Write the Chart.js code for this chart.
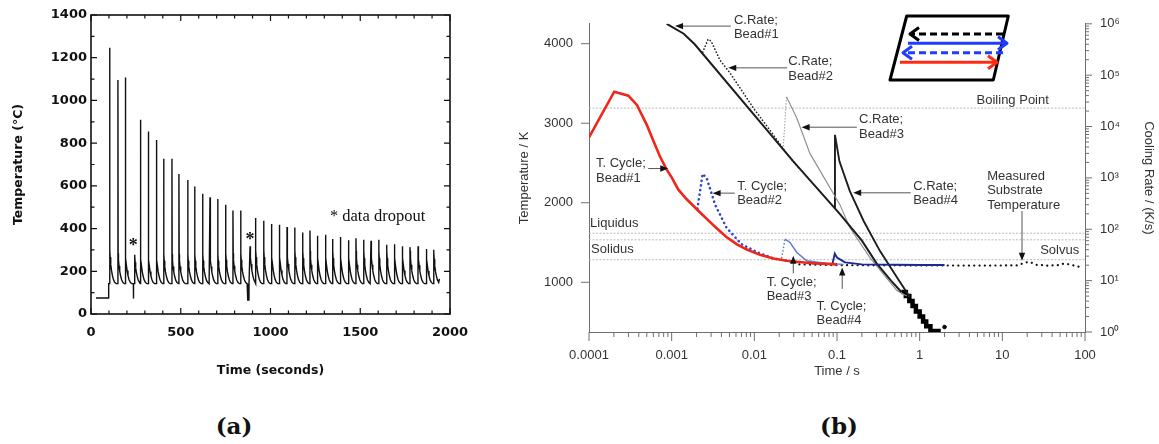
<!DOCTYPE html>
<html>
<head>
<meta charset="utf-8">
<script src="https://cdn.jsdelivr.net/npm/chart.js@4.4.1/dist/chart.umd.min.js"></script>
<style>
  body { margin: 0; width: 1159px; height: 444px; background: #fff; position: relative; overflow: hidden; }
  .panel { position: absolute; top: 0; }
  .tag { position: absolute; top: 414px; transform: translateX(-50%); font: bold 23px 'DejaVu Serif', serif; color: #111; line-height: 1; }
</style>
</head>
<body>
<canvas id="chartA" class="panel" style="left:0" width="480" height="395"></canvas>
<canvas id="chartB" class="panel" style="left:480px" width="679" height="395"></canvas>
<div class="tag" style="left:234px">(a)</div>
<div class="tag" style="left:839px">(b)</div>
<script>
// ---------- (a) temperature history ----------
const preTimes = [28, 98, 98.5];
const preTemps = [75, 75, 142];
const baseTemp = 142;
const cycleTimes = [104, 150, 191, 243, 275, 319, 364, 405, 451, 490, 539, 578, 622, 663, 706, 750, 791, 834, 886, 917,
  962, 1005, 1049, 1092, 1135, 1179, 1220, 1261, 1306, 1346, 1389, 1434, 1476, 1519, 1560, 1603, 1647, 1690, 1734, 1777,
  1822, 1868, 1909];
const peakTemps = [1247, 1096, 1107, 278, 909, 854, 815, 727, 727, 655, 628, 597, 563, 547, 538, 511, 485, 485, 317, 449,
  437, 421, 418, 407, 405, 382, 391, 366, 371, 351, 360, 345, 355, 348, 343, 348, 324, 327, 317, 313,
  317, 304, 301];
const kneeTemps = [300, 285, 295, 270, 290, 285, 285, 280, 280, 280, 280, 280, 280, 280, 280, 285, 285, 285, 300, 300,
  300, 300, 300, 300, 300, 295, 295, 295, 295, 295, 295, 295, 295, 295, 295, 295, 295, 295, 295, 295,
  290, 290, 288];
// decay after each spike: seconds after peak, share of (knee - base) left
const decayOffsets = [1.2, 3, 6, 10, 15, 21, 28, 36];
const decayShares = [1, 0.78, 0.58, 0.4, 0.25, 0.12, 0.04, 0];
// data dropouts (cycle index they precede, start, end, low value)
const dropoutCycle = [3, 18];
const dropoutStart = [236, 873];
const dropoutEnd = [237, 880];
const dropoutTemps = [72, 65];
const endTime = 1941, endTemp = 165;
const xTicksA = [0, 500, 1000, 1500, 2000];
const yTicksA = [0, 200, 400, 600, 800, 1000, 1200, 1400];

// ---------- (b) thermal cycles and cooling rates ----------
const redTimes = [1e-4, 2.02e-4, 2.99e-4, 3.8e-4, 5e-4, 6e-4, 7.2e-4, 8.7e-4, 1.0e-3, 1.2e-3, 1.5e-3, 2.1e-3, 2.9e-3, 3.5e-3,
  4.6e-3, 6.1e-3, 8e-3, 1.17e-2, 1.7e-2, 2.45e-2, 5e-2, 0.1];
const redTemps = [2821, 3396, 3346, 3230, 2980, 2780, 2584, 2417, 2320, 2167, 2050, 1900, 1760, 1680,
  1570, 1480, 1415, 1345, 1300, 1271, 1240, 1225];
const bead2Times = [2.05e-3, 2.37e-3, 2.65e-3, 3.34e-3, 4.6e-3, 7.0e-3, 1.1e-2, 1.7e-2, 3.0e-2];
const bead2Temps = [1925, 2363, 2313, 1980, 1687, 1479, 1375, 1300, 1255];
const bead3Times = [2.14e-2, 2.35e-2, 2.7e-2, 3.27e-2, 4.3e-2, 7.5e-2, 0.12];
const bead3Temps = [1300, 1542, 1500, 1375, 1271, 1237, 1225];
const bead4Times = [0.05, 0.088, 0.094, 0.1, 0.125, 0.2, 0.5, 1.0, 2.0];
const bead4Temps = [1240, 1232, 1362, 1312, 1250, 1225, 1220, 1218, 1217];
const substrateTimes = [0.035, 0.1, 1, 5, 15, 18, 21, 26, 35, 48, 55, 65, 80, 95];
const substrateTemps = [1225, 1215, 1212, 1210, 1212, 1240, 1259, 1220, 1210, 1215, 1234, 1225, 1200, 1190];

const rate1Times = [8.7e-4, 1.4e-3, 1.9e-3, 2.96e-2, 0.108, 0.2, 0.3, 0.45, 0.6];
const rate1Values = [1.0e6, 6.4e5, 4.0e5, 2100, 200, 60, 22, 10, 6];
const rate2Times = [2.37e-3, 2.76e-3, 3.0e-3, 3.85e-3, 5.1e-3, 9.8e-3, 1.7e-2, 2.45e-2, 3.6e-2];
const rate2Values = [2.8e5, 5.0e5, 4.6e5, 1.95e5, 1.09e5, 2.26e4, 6.9e3, 3.0e3, 1450];
const rate3Times = [2.23e-2, 2.45e-2, 3.27e-2, 4.7e-2, 7.0e-2, 0.108, 0.143, 0.25, 0.53, 0.7];
const rate3Values = [3600, 3.8e4, 1.45e4, 3000, 1000, 305, 108, 28, 6.4, 5];
const rate4Times = [0.094, 0.0945, 0.107, 0.143, 0.21, 0.33, 0.53, 0.76];
const rate4Values = [260, 6900, 2100, 552, 145, 38, 11.6, 4.8];
const tailTimes = [0.6, 0.68, 0.75, 0.82, 0.9, 1.0, 1.1, 1.2, 1.35, 1.8];
const tailValues = [6, 5, 4, 3.2, 2.5, 2, 1.6, 1.3, 1.05, 1.05];
const lastDotTime = [2.0], lastDotValue = [1.25];

const refNames = ['Boiling Point', 'Liquidus', 'Solidus', 'Solvus'];
const refTemps = [3190, 1617, 1534, 1284];

const xTicksB = [1e-4, 1e-3, 0.01, 0.1, 1, 10, 100];
const xLabelsB = ['0.0001', '0.001', '0.01', '0.1', '1', '10', '100'];
const yTicksB = [1000, 2000, 3000, 4000];
const rateTicks = [1, 10, 100, 1e3, 1e4, 1e5, 1e6];
const rateLabels = ['10\u2070', '10\u00b9', '10\u00b2', '10\u00b3', '10\u2074', '10\u2075', '10\u2076'];

// build the (a) trace
const seriesA = preTimes.map((t, i) => ({x: t, y: preTemps[i]}));
cycleTimes.forEach((tp, i) => {
  const d = dropoutCycle.indexOf(i);
  if (d >= 0) {
    seriesA.push({x: dropoutStart[d], y: baseTemp}, {x: dropoutStart[d] + 0.3, y: dropoutTemps[d]},
      {x: dropoutEnd[d], y: dropoutTemps[d]}, {x: dropoutEnd[d] + 0.3, y: baseTemp});
  }
  seriesA.push({x: tp - 0.4, y: baseTemp}, {x: tp, y: peakTemps[i]});
  const next = i + 1 < cycleTimes.length ? cycleTimes[i + 1] : endTime;
  decayOffsets.forEach((o, k) => {
    if (tp + o < next - 1) seriesA.push({x: tp + o, y: baseTemp + decayShares[k] * (kneeTemps[i] - baseTemp)});
  });
});
seriesA.push({x: endTime, y: endTemp});

const zip = (xs, ys) => xs.map((v, i) => ({x: v, y: ys[i]}));

const boldA = {family: 'DejaVu Sans', weight: 'bold', size: 13};

const frameA = {
  id: 'frameA',
  afterDraw(chart) {
    const {ctx, chartArea: a, scales: {x, y}} = chart;
    ctx.save();
    ctx.strokeStyle = '#111';
    ctx.lineWidth = 1.6;
    ctx.strokeRect(a.left, a.top, a.right - a.left, a.bottom - a.top);
    ctx.lineWidth = 1.2;
    ctx.beginPath();
    for (let v = 0; v <= 2000; v += 100) {
      const p = x.getPixelForValue(v), len = xTicksA.includes(v) ? 6 : 3.5;
      ctx.moveTo(p, a.bottom); ctx.lineTo(p, a.bottom - len);
      ctx.moveTo(p, a.top); ctx.lineTo(p, a.top + len);
    }
    for (let v = 0; v <= 1400; v += 100) {
      const p = y.getPixelForValue(v), len = yTicksA.includes(v) ? 6 : 3.5;
      ctx.moveTo(a.left, p); ctx.lineTo(a.left + len, p);
      ctx.moveTo(a.right, p); ctx.lineTo(a.right - len, p);
    }
    ctx.stroke();
    ctx.fillStyle = '#111';
    ctx.textBaseline = 'middle';
    ctx.font = '16.5px "Liberation Serif", serif';
    ctx.fillText('* data dropout', x.getPixelForValue(1331), y.getPixelForValue(455));
    ctx.font = 'bold 18px "Liberation Serif", serif';
    ctx.textAlign = 'center';
    ctx.textBaseline = 'alphabetic';
    [[236, 331], [886, 359]].forEach(([t, v]) => {
      ctx.fillText('*', x.getPixelForValue(t), y.getPixelForValue(v) + 8);
    });
    ctx.restore();
  }
};

new Chart(document.getElementById('chartA'), {
  type: 'line',
  data: {datasets: [{data: seriesA, borderColor: '#111', borderWidth: 1.4, pointRadius: 0, tension: 0, fill: false}]},
  options: {
    responsive: false,
    animation: false,
    plugins: {legend: {display: false}, tooltip: {enabled: false}},
    layout: {padding: {top: 15, right: 30, left: 0, bottom: 0}},
    scales: {
      x: {
        type: 'linear', min: 0, max: 2000,
        afterBuildTicks: s => { s.ticks = xTicksA.map(v => ({value: v})); },
        afterFit: s => { s.height = 81; },
        grid: {display: false, drawTicks: false},
        border: {display: false},
        ticks: {padding: 11, color: '#111', font: boldA, callback: v => String(v)},
        title: {display: true, text: 'Time (seconds)', color: '#111',
          font: {family: 'DejaVu Sans', weight: 'bold', size: 12.5}, padding: {bottom: 17, top: 0}}
      },
      y: {
        min: 0, max: 1400,
        afterBuildTicks: s => { s.ticks = yTicksA.map(v => ({value: v})); },
        afterFit: s => { s.width = 91; },
        grid: {display: false, drawTicks: false},
        border: {display: false},
        ticks: {padding: 4, color: '#111', font: boldA, callback: v => String(v)},
        title: {display: true, text: 'Temperature (\u00b0C)', color: '#111',
          font: {family: 'DejaVu Sans', weight: 'bold', size: 12.5}, padding: {top: 11, bottom: 0}}
      }
    }
  },
  plugins: [frameA]
});

// ---------- (b) ----------
const sansB = {family: 'Liberation Sans', size: 13};
const axisGray = '#6f6f6f';
const textGray = '#333';

// call-outs in data units: first text line anchor, arrow tail, arrow tip
const notes = [
  {lines: ['C.Rate;', 'Bead#1'], at: [5.66e-3, 4296], from: [5.2e-3, 4221], to: [1.10e-3, 4221]},
  {lines: ['C.Rate;', 'Bead#2'], at: [2.57e-2, 3771], from: [2.5e-2, 3696], to: [4.84e-3, 3696]},
  {lines: ['C.Rate;', 'Bead#3'], at: [0.185, 3042], from: [0.174, 2950], to: [0.0373, 2950]},
  {lines: ['C.Rate;', 'Bead#4'], at: [0.834, 2209], from: [0.78, 2125], to: [0.157, 2125]},
  {lines: ['T. Cycle;', 'Bead#1'], at: [1.215e-4, 2492], from: [5.2e-4, 2430], to: [9.1e-4, 2430]},
  {lines: ['T. Cycle;', 'Bead#2'], at: [6.2e-3, 2209], from: [5.8e-3, 2121], to: [3.13e-3, 2121]},
  {lines: ['T. Cycle;', 'Bead#3'], at: [1.41e-2, 1000], from: [2.96e-2, 1112], to: [2.96e-2, 1334]},
  {lines: ['T. Cycle;', 'Bead#4'], at: [5.66e-2, 700], from: [0.1156, 917], to: [0.1156, 1187]},
  {lines: ['Measured', 'Substrate', 'Temperature'], at: [6.55, 2334], from: [17.3, 1896], to: [17.3, 1271]}
];
const refLabelAt = [[4.88, 3292, 'left'], [1.03e-4, 1742, 'left'], [1.06e-4, 1417, 'left'], [85, 1405, 'right']];

function calloutArrow(ctx, x1, y1, x2, y2) {
  const ang = Math.atan2(y2 - y1, x2 - x1);
  ctx.strokeStyle = '#555';
  ctx.lineWidth = 1;
  ctx.beginPath(); ctx.moveTo(x1, y1); ctx.lineTo(x2 - 6 * Math.cos(ang), y2 - 6 * Math.sin(ang)); ctx.stroke();
  ctx.fillStyle = '#111';
  ctx.beginPath();
  ctx.moveTo(x2, y2);
  ctx.lineTo(x2 - 8 * Math.cos(ang) + 3.2 * Math.sin(ang), y2 - 8 * Math.sin(ang) - 3.2 * Math.cos(ang));
  ctx.lineTo(x2 - 8 * Math.cos(ang) - 3.2 * Math.sin(ang), y2 - 8 * Math.sin(ang) + 3.2 * Math.cos(ang));
  ctx.closePath(); ctx.fill();
}

function insetArrow(ctx, x1, x2, yy, color, dashed) {
  ctx.strokeStyle = color;
  ctx.lineWidth = 3;
  ctx.setLineDash(dashed ? [7, 4] : []);
  ctx.beginPath(); ctx.moveTo(x1, yy); ctx.lineTo(x2, yy); ctx.stroke();
  ctx.setLineDash([]);
  const d = x2 > x1 ? -1 : 1;
  ctx.beginPath(); ctx.moveTo(x2 + d * 9, yy - 6.5); ctx.lineTo(x2, yy); ctx.lineTo(x2 + d * 9, yy + 6.5); ctx.stroke();
}

const decorB = {
  id: 'decorB',
  afterDraw(chart) {
    const {ctx, chartArea: a, scales: {x, y, y2}} = chart;
    ctx.save();
    ctx.strokeStyle = axisGray;
    ctx.lineWidth = 1;
    ctx.beginPath();
    for (let e = -4; e <= 2; e++) {
      for (let m = 1; m <= 9; m++) {
        if (e === 2 && m > 1) break;
        const p = x.getPixelForValue(m * Math.pow(10, e));
        ctx.moveTo(p, a.bottom); ctx.lineTo(p, a.bottom + (m === 1 ? 9 : 5));
      }
    }
    for (let e = 0; e <= 6; e++) {
      for (let m = 1; m <= 9; m++) {
        if (e === 6 && m > 1) break;
        const p = y2.getPixelForValue(m * Math.pow(10, e));
        ctx.moveTo(a.right, p); ctx.lineTo(a.right + (m === 1 ? 7 : 4), p);
      }
    }
    yTicksB.forEach(v => {
      const p = y.getPixelForValue(v);
      ctx.moveTo(a.left, p); ctx.lineTo(a.left - 8, p);
    });
    ctx.stroke();

    ctx.font = '13px "Liberation Sans", Arial, sans-serif';
    ctx.textBaseline = 'middle';
    ctx.fillStyle = textGray;
    refNames.forEach((n, i) => {
      const [t, v, al] = refLabelAt[i];
      ctx.textAlign = al;
      ctx.fillText(n, x.getPixelForValue(t), y.getPixelForValue(v));
    });
    ctx.textAlign = 'left';
    notes.forEach(n => {
      const px = x.getPixelForValue(n.at[0]), py = y.getPixelForValue(n.at[1]);
      ctx.fillStyle = textGray;
      n.lines.forEach((l, k) => ctx.fillText(l, px, py + k * 14.6));
      calloutArrow(ctx, x.getPixelForValue(n.from[0]), y.getPixelForValue(n.from[1]),
        x.getPixelForValue(n.to[0]), y.getPixelForValue(n.to[1]));
    });

    // scan-path sketch in the upper right corner
    ctx.strokeStyle = '#000';
    ctx.lineWidth = 3;
    ctx.lineJoin = 'round';
    ctx.beginPath();
    ctx.moveTo(426.7, 16); ctx.lineTo(528.3, 16); ctx.lineTo(513.3, 80); ctx.lineTo(410, 80); ctx.closePath();
    ctx.stroke();
    insetArrow(ctx, 523, 430, 34, '#000', true);
    insetArrow(ctx, 428, 527, 43.3, '#1f3cff', false);
    insetArrow(ctx, 523, 423, 52.7, '#1f3cff', true);
    insetArrow(ctx, 420, 517, 62.3, '#ff2a12', false);
    ctx.restore();
  }
};

const line = (data, color, width, extra) => Object.assign({
  data, borderColor: color, borderWidth: width, pointRadius: 0, tension: 0, fill: false, yAxisID: 'y'
}, extra || {});
const dotted = (w, gap) => ({borderDash: [0.1, gap], borderCapStyle: 'round', borderWidth: w});

new Chart(document.getElementById('chartB'), {
  type: 'line',
  data: {
    datasets: [
      line(zip(redTimes, redTemps), '#f0261b', 2.6),
      line(zip(bead2Times, bead2Temps), '#2c47cc', 2.6, dotted(2.6, 4.6)),
      line(zip(bead3Times, bead3Temps), '#5b79cf', 1.4, {segment: {borderDash: c => c.p0DataIndex === 0 ? [1.5, 2] : undefined}}),
      line(zip(bead4Times, bead4Temps), '#1c2990', 1.9),
      line(zip(substrateTimes, substrateTemps), '#111', 2.2, dotted(2.2, 5.2)),
      line(zip(rate1Times, rate1Values), '#1e1e1e', 2.0, {yAxisID: 'y2'}),
      line(zip(rate2Times, rate2Values), '#222', 1.7, Object.assign({yAxisID: 'y2'}, dotted(1.7, 3.2))),
      line(zip(rate3Times, rate3Values), '#8c8c8c', 1.1, {yAxisID: 'y2', segment: {borderDash: c => c.p0DataIndex === 0 ? [1.2, 1.8] : undefined}}),
      line(zip(rate4Times, rate4Values), '#1e1e1e', 1.9, {yAxisID: 'y2'}),
      line(zip(tailTimes, tailValues), '#000', 4.5, {yAxisID: 'y2', stepped: true}),
      line(zip(lastDotTime, lastDotValue), '#000', 1, {yAxisID: 'y2', pointRadius: 1.8, pointBackgroundColor: '#000', showLine: false}),
      ...refTemps.map(v => line([{x: 1e-4, y: v}, {x: 100, y: v}], '#b9b9b9', 1, {borderDash: [2, 1.5]}))
    ]
  },
  options: {
    responsive: false,
    animation: false,
    plugins: {legend: {display: false}, tooltip: {enabled: false}},
    layout: {padding: {top: 22, right: 0, left: 0, bottom: 0}},
    scales: {
      x: {
        type: 'logarithmic', min: 1e-4, max: 100,
        afterBuildTicks: s => { s.ticks = xTicksB.map(v => ({value: v})); },
        afterFit: s => { s.height = 63; },
        grid: {display: false, drawTicks: false},
        border: {display: true, color: axisGray, width: 1},
        ticks: {padding: 16, color: textGray, font: sansB, autoSkip: false, maxRotation: 0, callback: (v, i) => xLabelsB[i]},
        title: {display: true, text: 'Time / s', color: textGray, font: sansB, padding: {bottom: 15.5, top: 0}}
      },
      y: {
        type: 'linear', position: 'left', min: 375, max: 4250,
        afterBuildTicks: s => { s.ticks = yTicksB.map(v => ({value: v})); },
        afterFit: s => { s.width = 109; },
        grid: {display: false, drawTicks: false},
        border: {display: true, color: axisGray, width: 1},
        ticks: {padding: 16, color: textGray, font: sansB, callback: v => String(v)},
        title: {display: true, text: 'Temperature / K', color: textGray, font: sansB, padding: {top: 37, bottom: 0}}
      },
      y2: {
        type: 'logarithmic', position: 'right', min: 1, max: 1e6,
        afterBuildTicks: s => { s.ticks = rateTicks.map(v => ({value: v})); },
        afterFit: s => { s.width = 74; },
        grid: {display: false, drawTicks: false},
        border: {display: true, color: axisGray, width: 1},
        ticks: {padding: 15, color: textGray, font: sansB, callback: (v, i) => rateLabels[i]},
        title: {display: true, text: 'Cooling Rate / (K/s)', color: textGray, font: sansB, padding: {top: 3, bottom: 0}}
      }
    }
  },
  plugins: [decorB]
});
</script>
</body>
</html>
